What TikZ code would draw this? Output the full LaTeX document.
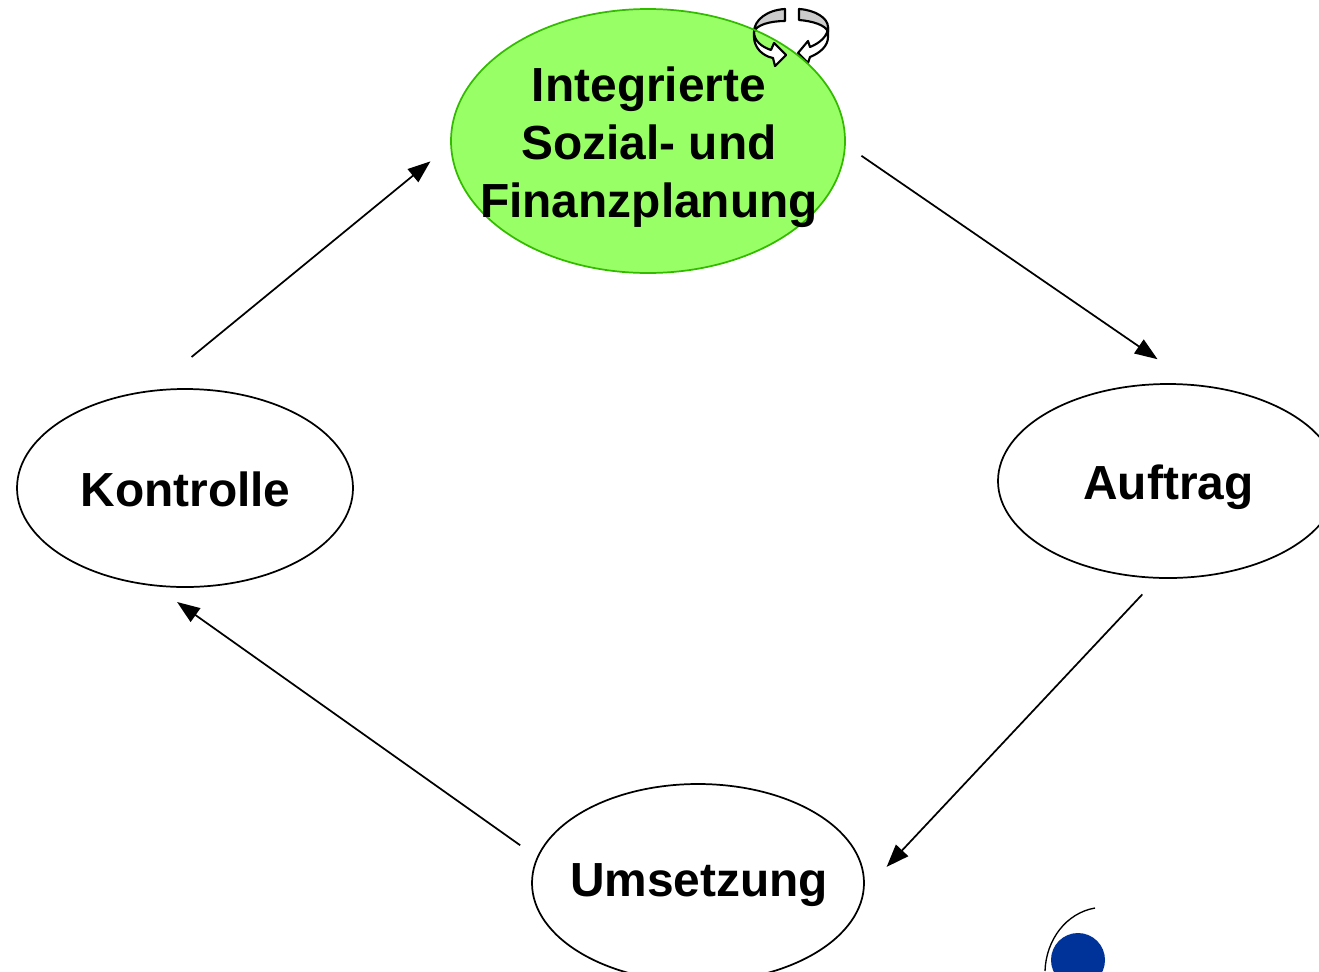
\documentclass[tikz,border=0pt]{standalone}
\usepackage{fontspec}
\setmainfont{Liberation Sans}
\usetikzlibrary{shapes.geometric, arrows.meta}
\definecolor{planfill}{HTML}{99FF66}
\definecolor{planline}{HTML}{33BB00}
\definecolor{dotblue}{HTML}{003399}
\tikzset{
  phase/.style={ellipse, draw=black, line width=1.3pt, inner sep=0pt, outer sep=0pt},
  phasetext/.style={align=center, inner sep=0pt, font=\fontsize{35.9}{43.5}\selectfont\bfseries},
  flow/.style={-{Triangle[length=17pt, width=12.5pt]}, line width=1.3pt},
  icon/.style={draw=black, line width=1.6pt, line join=round}
}
\begin{document}
\begin{tikzpicture}[x=0.75pt, y=-0.75pt]
\clip (0,0) rectangle (1319,971);
\fill[white] (0,0) rectangle (1319,971);

\node[phase, draw=none, fill=planfill, minimum width=295.5pt, minimum height=198pt] (planfl) at (648,141) {};

% loop icon
\draw[icon, fill=black!20] (785,9) .. controls (767,10) and (754,20) .. (754,32) .. controls (756,25) and (770,21) .. (785,21) -- cycle;
\draw[icon, fill=white] (754,32) .. controls (754,41) and (762,47) .. (771,50) -- (774,43) -- (786,55) -- (775,66) -- (773,58) .. controls (762,56) and (754,47) .. (754,37) -- cycle;
\draw[icon, fill=black!20] (799,9) .. controls (815,10) and (828,18) .. (828,27) -- (828,32) .. controls (826,25) and (812,21) .. (799,20) -- cycle;
\draw[icon, fill=white] (828,27) .. controls (828,36) and (820,43) .. (810,47) -- (808,41) -- (798,53) -- (808,63) -- (810,57) .. controls (820,53) and (828,46) .. (828,37) -- cycle;

\node[phase, draw=planline, minimum width=295.5pt, minimum height=198pt] (plan) at (648,141) {};
\node[phase, minimum width=252pt, minimum height=148.5pt] (kontrolle) at (185,488) {};
\node[phase, minimum width=255pt, minimum height=145.5pt] (auftrag) at (1168,481) {};
\node[phase, minimum width=249pt, minimum height=148.5pt] (umsetzung) at (698,883) {};

\node[phasetext] (plantext) at (649,147) {Integrierte\\Sozial- und\\Finanzplanung};
\node[phasetext] (kontrolletext) at (185.5,489) {Kontrolle};
\node[phasetext] (auftragtext) at (1168.5,487) {Auftrag};
\node[phasetext] (umsetzungtext) at (699,885) {Umsetzung};

\draw[flow, shorten <=15pt, shorten >=34.5pt] (plan.-1) -- (auftrag.74.4);
\draw[flow, shorten <=17pt, shorten >=25.5pt] (auftrag.264.6) -- (umsetzung.-3.2);
\draw[flow, shorten <=16pt, shorten >=21.75pt] (umsetzung.171) -- (kontrolle.252.5);
\draw[flow, shorten <=40.5pt, shorten >=20pt] (kontrolle.110) -- (plan.181.4);

% logo
\node[circle, fill=dotblue, inner sep=0pt, minimum size=40.5pt] (logodot) at (1078,960) {};
\draw[line width=1pt] (1095,908) .. controls (1066,913) and (1046,940) .. (1045,971);
\end{tikzpicture}
\end{document}
